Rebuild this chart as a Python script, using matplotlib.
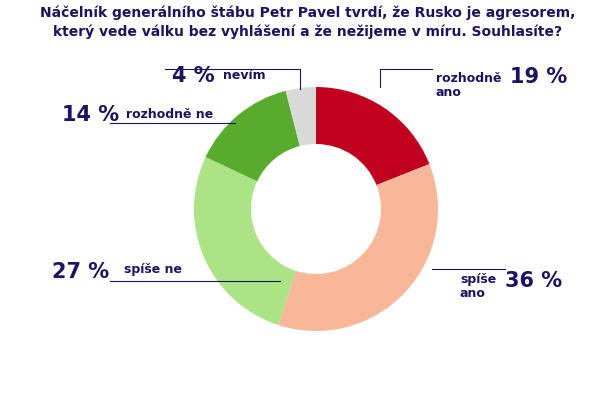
import matplotlib
matplotlib.use("Agg")
import matplotlib.pyplot as plt
from matplotlib.lines import Line2D

labels = ["rozhodně\nano", "spíše\nano", "spíše ne", "rozhodně ne", "nevím"]
values = [19, 36, 27, 14, 4]
colors = ["#C0001E", "#F9B79A", "#ABE385", "#57AC2E", "#D9D9D9"]
title = "Náčelník generálního štábu Petr Pavel tvrdí, že Rusko je agresorem,\nkterý vede válku bez vyhlášení a že nežijeme v míru. Souhlasíte?"

W, H = 616, 410
navy = "#1B1464"
fig = plt.figure(figsize=(W/100, H/100), dpi=100)
cx, cy, r = 316, 210, 122
ax = fig.add_axes([(cx-r)/W, 1-(cy+r)/H, 2*r/W, 2*r/H])
ax.pie(values, colors=colors, startangle=90, counterclock=False,
       wedgeprops=dict(width=57/122, linewidth=0))
ax.set_xlim(-1, 1)
ax.set_ylim(-1, 1)
ax.set_aspect("equal")

def fx(x): return x/W
def fy(y): return 1-y/H

fig.text(0.5, fy(6), title, ha="center", va="top", fontsize=10, fontweight="bold", color=navy, linespacing=1.35)

def line(pts):
    fig.add_artist(Line2D([fx(p[0]) for p in pts], [fy(p[1]) for p in pts], color=navy, lw=0.8))

line([(380, 88), (380, 70), (432, 70)])
line([(432, 270), (505, 270)])
line([(110, 282), (280, 282)])
line([(110, 124), (235, 124)])
line([(300, 90), (300, 70), (165, 70)])

big = dict(fontsize=15, fontweight="bold", color=navy)
small = dict(fontsize=9, fontweight="bold", color=navy, linespacing=1.1)
fig.text(fx(510), fy(77), f"{values[0]} %", va="center", **big)
fig.text(fx(436), fy(85), labels[0], va="center", **small)
fig.text(fx(505), fy(281), f"{values[1]} %", va="center", **big)
fig.text(fx(460), fy(287), labels[1], va="center", **small)
fig.text(fx(52), fy(272), f"{values[2]} %", va="center", **big)
fig.text(fx(124), fy(270), labels[2], va="center", **small)
fig.text(fx(62), fy(115), f"{values[3]} %", va="center", **big)
fig.text(fx(126), fy(115), labels[3], va="center", **small)
fig.text(fx(172), fy(76), f"{values[4]} %", va="center", **big)
fig.text(fx(223), fy(76), labels[4], va="center", **small)

fig.savefig("out.png", dpi=100)
